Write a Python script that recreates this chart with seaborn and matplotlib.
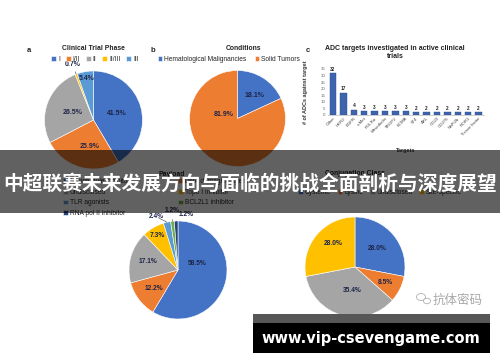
import matplotlib
matplotlib.use("Agg")
import matplotlib.pyplot as plt
import seaborn as sns
import numpy as np
from matplotlib.patches import Rectangle, Ellipse

W, H = 500, 362

# ---- data ----
phase_labels = ["I", "I/II", "II", "II/III", "III"]
phase_values = [41.5, 25.9, 26.5, 0.7, 5.4]

condition_labels = ["Hematological Malignancies", "Solid Tumors"]
condition_values = [18.1, 81.9]

targets = ["Other", "HER2", "EGFR", "c-Met", "FOLRα", "Mesothelin", "TROP2", "BCMA",
           "5T4", "AXL", "CD22", "CD276", "NaPi2b", "ROR1", "Tissue factor"]
target_counts = [32, 17, 4, 3, 3, 3, 3, 3, 2, 2, 2, 2, 2, 2, 2]

payload_labels = ["Microtubule inhibitor", "DNA damaging agent", "Undisclosed", "Topo I inhibitor",
                  "TLR agonists", "BCL2L1 inhibitor", "RNA pol II inhibitor"]
payload_values = [58.5, 12.2, 17.1, 7.3, 2.4, 1.2, 1.2]

conj_labels = ["Cysteine", "Lysine", "Undisclosed", "Site-specific"]
conj_values = [28.0, 8.5, 35.4, 28.0]

# excel-ish palette
BLUE, ORANGE, GRAY, YELLOW = "#4472C4", "#ED7D31", "#A5A5A5", "#FFC000"
LBLUE, GREEN, NAVY = "#5B9BD5", "#70AD47", "#264478"
LABEL_C = "#1e2448"

sns.set_theme(style="white")
plt.rcParams["font.family"] = ["Liberation Sans", "Noto Sans CJK SC", "DejaVu Sans"]

fig = plt.figure(figsize=(W / 100, H / 100), dpi=100)


def fig_box(x, y, w, h):
    return [x / W, 1 - (y + h) / H, w / W, h / H]


def fpos(x, y):
    return x / W, 1 - y / H


def draw_pie(cx, cy, r, values, colors, places, fs=5.0):
    ax = fig.add_axes(fig_box(cx - r, cy - r, 2 * r, 2 * r))
    wedges, _ = ax.pie(values, colors=colors, startangle=90, counterclock=False,
                       wedgeprops=dict(edgecolor="white", linewidth=0.4))
    ax.set_xlim(-1, 1)
    ax.set_ylim(-1, 1)
    ax.axis("off")
    for v, w, (d, dt) in zip(values, wedges, places):
        mid = (w.theta1 + w.theta2) / 2
        a = np.deg2rad(mid + dt)
        tx, ty = d * np.cos(a), d * np.sin(a)
        txt = f"{v:.1f}%"
        if d > 1:
            ex, ey = np.cos(np.deg2rad(mid)), np.sin(np.deg2rad(mid))
            ax.annotate(txt, xy=(ex, ey), xytext=(tx, ty), ha="center", va="center",
                        fontsize=fs, fontweight="bold", color=LABEL_C, annotation_clip=False,
                        arrowprops=dict(arrowstyle="-", lw=0.4, color="#333333",
                                        shrinkA=2, shrinkB=0))
        else:
            ax.text(tx, ty, txt, ha="center", va="center", fontsize=fs,
                    fontweight="bold", color=LABEL_C)
    return ax, wedges


def legend_at(handles, labels, x, y, loc="center", ncol=1, fs=4.8, **kw):
    fig.legend(handles, labels, loc=loc, bbox_to_anchor=fpos(x, y), ncol=ncol,
               frameon=False, fontsize=fs, handlelength=0.7, handleheight=0.7,
               handletextpad=0.3, borderpad=0, borderaxespad=0, **kw)


# ---- a: clinical trial phase ----
_, w_a = draw_pie(93.5, 120, 49, phase_values, [BLUE, ORANGE, GRAY, YELLOW, LBLUE],
                  [(0.5, 0), (0.55, 8), (0.45, 0), (1.2, 0), (0.86, 0)])
fig.text(*fpos(29, 51), "a", fontsize=5.5, fontweight="bold", ha="center", va="center")
fig.text(*fpos(93, 49), "Clinical Trial Phase", fontsize=4.9, fontweight="bold",
         ha="center", va="center", color="#222222")
legend_at(w_a, phase_labels, 95, 59.5, ncol=5, columnspacing=0.9)

# ---- b: conditions ----
_, w_b = draw_pie(237.5, 118.5, 48, condition_values, [BLUE, ORANGE],
                  [(0.6, -4), (0.3, -75)])
fig.text(*fpos(153, 50), "b", fontsize=5.5, fontweight="bold", ha="center", va="center")
fig.text(*fpos(243, 48), "Conditions", fontsize=4.9, fontweight="bold",
         ha="center", va="center", color="#222222")
legend_at(w_b, condition_labels, 229, 59.5, ncol=2, columnspacing=1.2)

# ---- c: ADC targets ----
axc = fig.add_axes(fig_box(327.8, 69, 156, 46))
sns.barplot(x=targets, y=target_counts, ax=axc, color="#3d64ad", width=0.6,
            saturation=1, edgecolor="#2b4f94", linewidth=0.3)
axc.set_ylim(0, 35)
axc.set_xlim(-0.5, len(targets) - 0.5)
axc.set_yticks(range(0, 36, 5))
axc.tick_params(axis="y", labelsize=3.2, colors="#666666", length=0, pad=1.5)
axc.tick_params(axis="x", labelsize=3.2, colors="#444444", length=0, pad=1)
plt.setp(axc.get_xticklabels(), rotation=45, ha="right", rotation_mode="anchor")
for s in ["top", "right", "left"]:
    axc.spines[s].set_visible(False)
axc.spines["bottom"].set_color("#bbbbbb")
axc.spines["bottom"].set_linewidth(0.5)
axc.bar_label(axc.containers[0], fontsize=3.4, fontweight="bold", padding=1, color="#222222")
axc.set_ylabel("# of ADCs against target", fontsize=4.0, fontweight="bold", color="#333333")
axc.yaxis.set_label_coords(-0.13, 0.5)
axc.set_xlabel("Targets", fontsize=4.0, fontweight="bold", color="#333333")
axc.xaxis.set_label_coords(0.5, -0.72)
axc.set_facecolor("none")
fig.text(*fpos(308, 51), "c", fontsize=5.5, fontweight="bold", ha="center", va="center")
fig.text(*fpos(395, 52.5), "ADC targets investigated in active clinical\ntrials",
         fontsize=5.0, fontweight="bold", ha="center", va="center", color="#222222",
         linespacing=1.3)

# ---- payload ----
_, w_p = draw_pie(178, 270, 49, payload_values,
                  [BLUE, ORANGE, GRAY, YELLOW, LBLUE, GREEN, NAVY],
                  [(0.42, 35), (0.62, 0), (0.63, 0), (0.82, 0), (1.17, 9), (1.23, -1), (1.15, -10)],
                  fs=4.8)
fig.text(*fpos(172, 174), "Payload", fontsize=4.9, fontweight="bold", ha="center", va="center")
legend_at([w_p[i] for i in (0, 2, 4, 6)], [payload_labels[i] for i in (0, 2, 4, 6)],
          63, 178, loc="upper left", labelspacing=0.55)
legend_at([w_p[i] for i in (1, 3, 5)], [payload_labels[i] for i in (1, 3, 5)],
          178, 178, loc="upper left", labelspacing=0.55)

# ---- conjugation class ----
_, w_c = draw_pie(355, 267, 50, conj_values, [BLUE, ORANGE, GRAY, YELLOW],
                  [(0.57, 0), (0.68, 0), (0.47, 8), (0.65, -8)], fs=4.8)
fig.text(*fpos(355, 173), "Conjugation Class", fontsize=4.9, fontweight="bold",
         ha="center", va="center")
legend_at(w_c, conj_labels, 380, 192, ncol=4, columnspacing=1.0)

# ---- overlays ----
fig.add_artist(Rectangle(fpos(0, 213), 1, 63 / H, transform=fig.transFigure,
                         facecolor="black", alpha=0.62, edgecolor="none", zorder=10))
fig.text(*fpos(250, 184), "中超联赛未来发展方向与面临的挑战全面剖析与深度展望",
         family=["Noto Sans CJK SC", "DejaVu Sans"], fontsize=14.2, fontweight="bold",
         color="white", ha="center", va="center", zorder=11)

# watermark
for ex, ey, ew, eh in [(421, 297, 9, 7), (427, 301, 7, 5.5)]:
    fig.add_artist(Ellipse(fpos(ex, ey), ew / W, eh / H, transform=fig.transFigure,
                           facecolor="white", edgecolor="#b0b0b0", linewidth=0.6, zorder=9))
fig.text(*fpos(458, 300), "抗体密码", family=["Noto Sans CJK SC", "DejaVu Sans"],
         fontsize=9, color="#a8a8a8", ha="center", va="center", zorder=9)

# url box
fig.add_artist(Rectangle(fpos(253, 323), (490 - 253) / W, 9 / H, transform=fig.transFigure,
                         facecolor="#575757", edgecolor="none", zorder=10))
fig.add_artist(Rectangle(fpos(253, 353), (490 - 253) / W, 30 / H, transform=fig.transFigure,
                         facecolor="black", edgecolor="none", zorder=10))
fig.text(*fpos(371, 338), "www.vip-csevengame.com", family=["DejaVu Sans"],
         fontsize=10.5, fontweight="bold", color="white", ha="center", va="center", zorder=11)

fig.savefig("out.png", dpi=100)
